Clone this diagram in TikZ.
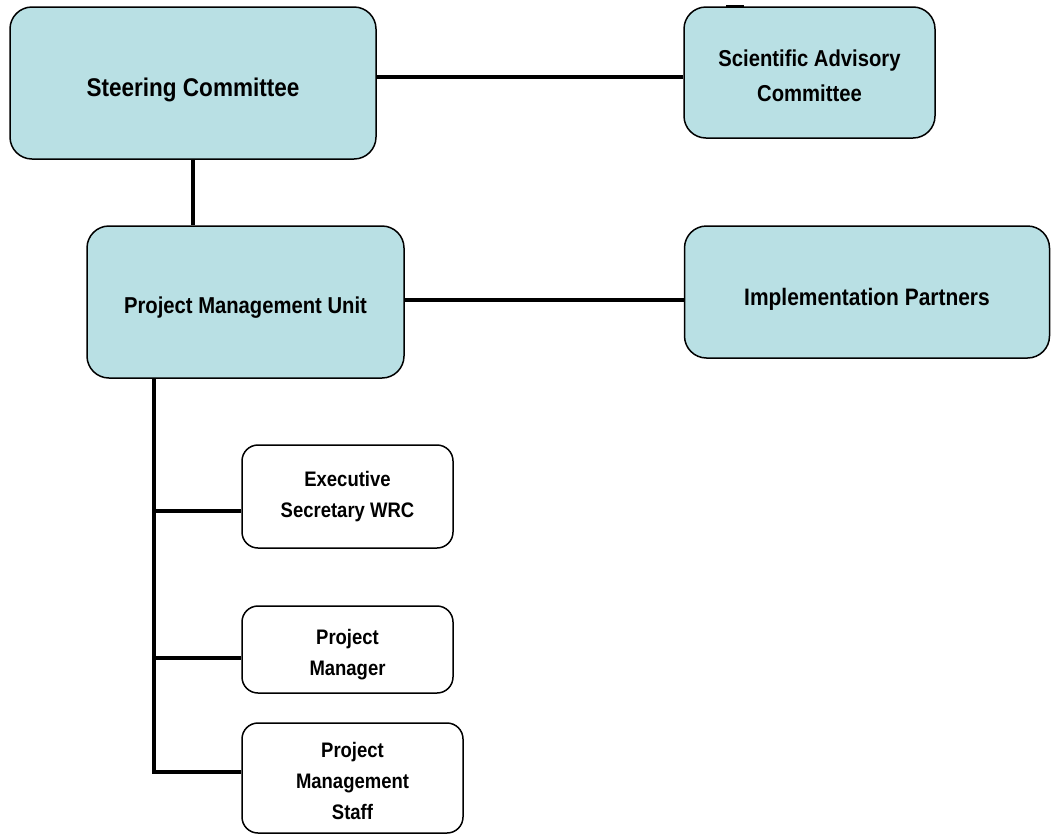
\documentclass[tikz,border=0pt]{standalone}
\usepackage{fontspec}
\setmainfont{Liberation Sans}[FakeStretch=0.88]
\definecolor{boxblue}{RGB}{185,224,228}
\newcommand\padtop[1]{\rule{0pt}{#1pt}}
\tikzset{
  orgbox/.style={draw,line width=1.5pt,rounded corners=22pt,align=center,inner sep=0pt,
    font=\bfseries\fontsize{23}{33}\selectfont},
  bluebox/.style={orgbox,fill=boxblue},
  whitebox/.style={orgbox,fill=white,rounded corners=16pt,font=\bfseries\fontsize{21}{31}\selectfont},
  link/.style={line width=4.5pt}
}
\begin{document}
\begin{tikzpicture}[x=1pt,y=-1pt]
\useasboundingbox (0,0) rectangle (1051,836);
\node[bluebox,minimum width=366,minimum height=152,font=\bfseries\fontsize{25.6}{33}\selectfont] (sc) at (193,83) {\padtop{33}Steering Committee};
\node[bluebox,minimum width=251,minimum height=131,font=\bfseries\fontsize{23}{35}\selectfont] (sac) at (809.5,72.5) {\padtop{23}Scientific Advisory\\Committee};
\node[bluebox,minimum width=317,minimum height=152] (pmu) at (245.5,302) {\padtop{28.5}Project Management Unit};
\node[bluebox,minimum width=365,minimum height=132,font=\bfseries\fontsize{23.8}{33}\selectfont] (ip) at (867,292) {\padtop{31}Implementation Partners};
\node[whitebox,minimum width=211,minimum height=103] (esw) at (347.5,496.5) {Executive\\Secretary WRC};
\node[whitebox,minimum width=211,minimum height=87] (pm) at (347.5,649.5) {\padtop{25}Project\\Manager};
\node[whitebox,minimum width=221,minimum height=110] (pms) at (352.5,778) {\padtop{22}Project\\Management\\Staff};
\fill (726,5) rectangle (744,7.5);
\draw[link] ([yshift=-4.5]sac.west) -- ([yshift=-4.5]sac.west -| sc.east);
\draw[link] (sc.south) -- (sc.south |- pmu.north);
\draw[link] ([yshift=2]pmu.east) -- ([yshift=2]pmu.east -| ip.west);
\coordinate (trunk) at ([xshift=-91.5]pmu.south);
\draw[link] (trunk) -- (trunk |- 0,774.25);
\foreach \b/\y in {esw/511,pm/658,pms/772}{
  \draw[link] (trunk |- 0,\y) -- (\b.west |- 0,\y);
}
\end{tikzpicture}
\end{document}
